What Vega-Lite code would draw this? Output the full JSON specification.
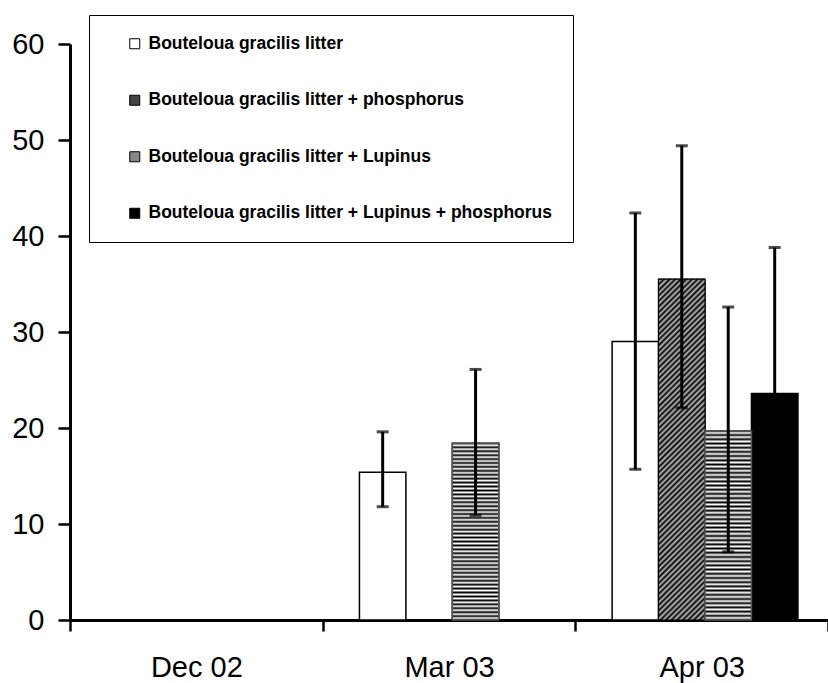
{
"$schema":"https://vega.github.io/schema/vega-lite/v6.json",
"width":758,"height":576,
"autosize":{"type":"none"},
"padding":{"left":70,"top":44,"right":0,"bottom":63},
"background":"white",
"config":{"view":{"stroke":null},"font":"Liberation Sans"},
"data":{"values":[
{"date":"Mar 03","treatment":"Bouteloua gracilis litter","mean":15.4,"lo":11.8,"hi":19.6},
{"date":"Mar 03","treatment":"Bouteloua gracilis litter + Lupinus","mean":18.4,"lo":10.9,"hi":26.1},
{"date":"Apr 03","treatment":"Bouteloua gracilis litter","mean":29.0,"lo":15.7,"hi":42.4},
{"date":"Apr 03","treatment":"Bouteloua gracilis litter + phosphorus","mean":35.5,"lo":22.1,"hi":49.4},
{"date":"Apr 03","treatment":"Bouteloua gracilis litter + Lupinus","mean":19.7,"lo":7.1,"hi":32.6},
{"date":"Apr 03","treatment":"Bouteloua gracilis litter + Lupinus + phosphorus","mean":23.6,"lo":8.4,"hi":38.8}
]},
"encoding":{
"x":{"field":"date","type":"nominal","scale":{"domain":["Dec 02","Mar 03","Apr 03"],"paddingInner":0,"paddingOuter":0},
"axis":{"title":null,"labelAngle":0,"tickBand":"extent","domainWidth":3,"domainColor":"black","tickColor":"black","tickWidth":2.5,"tickSize":11,"labelFontSize":29,"labelPadding":22,"labelColor":"black","labelFont":"Liberation Sans"}},
"xOffset":{"field":"treatment","type":"nominal","scale":{"domain":["Bouteloua gracilis litter","Bouteloua gracilis litter + phosphorus","Bouteloua gracilis litter + Lupinus","Bouteloua gracilis litter + Lupinus + phosphorus"],"paddingInner":0,"paddingOuter":0.72,"align":0.55}}
},
"layer":[
{"mark":{"type":"bar","stroke":"black","strokeWidth":1.5},
"encoding":{
"y":{"field":"mean","type":"quantitative","stack":null,"title":null,"scale":{"domain":[0,60]},
"axis":{"title":null,"values":[0,10,20,30,40,50,60],"grid":false,"domainColor":"black","domainWidth":3,"tickColor":"black","tickWidth":2.5,"tickSize":12,"labelFontSize":29,"labelColor":"black","labelPadding":14,"labelFont":"Liberation Sans"}},
"fill":{"field":"treatment","type":"nominal","scale":{"domain":["Bouteloua gracilis litter","Bouteloua gracilis litter + phosphorus","Bouteloua gracilis litter + Lupinus","Bouteloua gracilis litter + Lupinus + phosphorus"],"range":["white","#444444","#888888","black"]},
"legend":{"title":null,"orient":"none","legendX":19,"legendY":-29,"direction":"vertical","symbolType":"square","symbolSize":100,"symbolStrokeColor":"black","symbolStrokeWidth":1,"labelFont":"Liberation Sans","labelFontWeight":"bold","labelFontSize":17.5,"labelColor":"black","labelOffset":5,"rowPadding":37.5,"padding":20,"strokeColor":"black","fillColor":"white","symbolOffset":17,"labelLimit":600}}
}},
{"transform":[{"filter":"datum.treatment == 'Bouteloua gracilis litter + phosphorus'"}],
"mark":{"type":"bar","stroke":"black","strokeWidth":1,"fill":{"gradient":"linear","x1":0,"y1":0,"x2":0.1505,"y2":1.1147,"stops":[
{"offset":0,"color":"#000"},{"offset":0.007,"color":"#bbb"},{"offset":0.014,"color":"#000"},{"offset":0.021,"color":"#bbb"},{"offset":0.029,"color":"#000"},{"offset":0.036,"color":"#bbb"},{"offset":0.043,"color":"#000"},{"offset":0.05,"color":"#bbb"},{"offset":0.057,"color":"#000"},{"offset":0.064,"color":"#bbb"},
{"offset":0.071,"color":"#000"},{"offset":0.079,"color":"#bbb"},{"offset":0.086,"color":"#000"},{"offset":0.093,"color":"#bbb"},{"offset":0.1,"color":"#000"},{"offset":0.107,"color":"#bbb"},{"offset":0.114,"color":"#000"},{"offset":0.121,"color":"#bbb"},{"offset":0.129,"color":"#000"},{"offset":0.136,"color":"#bbb"},
{"offset":0.143,"color":"#000"},{"offset":0.15,"color":"#bbb"},{"offset":0.157,"color":"#000"},{"offset":0.164,"color":"#bbb"},{"offset":0.171,"color":"#000"},{"offset":0.179,"color":"#bbb"},{"offset":0.186,"color":"#000"},{"offset":0.193,"color":"#bbb"},{"offset":0.2,"color":"#000"},{"offset":0.207,"color":"#bbb"},
{"offset":0.214,"color":"#000"},{"offset":0.221,"color":"#bbb"},{"offset":0.229,"color":"#000"},{"offset":0.236,"color":"#bbb"},{"offset":0.243,"color":"#000"},{"offset":0.25,"color":"#bbb"},{"offset":0.257,"color":"#000"},{"offset":0.264,"color":"#bbb"},{"offset":0.271,"color":"#000"},{"offset":0.279,"color":"#bbb"},
{"offset":0.286,"color":"#000"},{"offset":0.293,"color":"#bbb"},{"offset":0.3,"color":"#000"},{"offset":0.307,"color":"#bbb"},{"offset":0.314,"color":"#000"},{"offset":0.321,"color":"#bbb"},{"offset":0.329,"color":"#000"},{"offset":0.336,"color":"#bbb"},{"offset":0.343,"color":"#000"},{"offset":0.35,"color":"#bbb"},
{"offset":0.357,"color":"#000"},{"offset":0.364,"color":"#bbb"},{"offset":0.371,"color":"#000"},{"offset":0.379,"color":"#bbb"},{"offset":0.386,"color":"#000"},{"offset":0.393,"color":"#bbb"},{"offset":0.4,"color":"#000"},{"offset":0.407,"color":"#bbb"},{"offset":0.414,"color":"#000"},{"offset":0.421,"color":"#bbb"},
{"offset":0.429,"color":"#000"},{"offset":0.436,"color":"#bbb"},{"offset":0.443,"color":"#000"},{"offset":0.45,"color":"#bbb"},{"offset":0.457,"color":"#000"},{"offset":0.464,"color":"#bbb"},{"offset":0.471,"color":"#000"},{"offset":0.479,"color":"#bbb"},{"offset":0.486,"color":"#000"},{"offset":0.493,"color":"#bbb"},
{"offset":0.5,"color":"#000"},{"offset":0.507,"color":"#bbb"},{"offset":0.514,"color":"#000"},{"offset":0.521,"color":"#bbb"},{"offset":0.529,"color":"#000"},{"offset":0.536,"color":"#bbb"},{"offset":0.543,"color":"#000"},{"offset":0.55,"color":"#bbb"},{"offset":0.557,"color":"#000"},{"offset":0.564,"color":"#bbb"},
{"offset":0.571,"color":"#000"},{"offset":0.579,"color":"#bbb"},{"offset":0.586,"color":"#000"},{"offset":0.593,"color":"#bbb"},{"offset":0.6,"color":"#000"},{"offset":0.607,"color":"#bbb"},{"offset":0.614,"color":"#000"},{"offset":0.621,"color":"#bbb"},{"offset":0.629,"color":"#000"},{"offset":0.636,"color":"#bbb"},
{"offset":0.643,"color":"#000"},{"offset":0.65,"color":"#bbb"},{"offset":0.657,"color":"#000"},{"offset":0.664,"color":"#bbb"},{"offset":0.671,"color":"#000"},{"offset":0.679,"color":"#bbb"},{"offset":0.686,"color":"#000"},{"offset":0.693,"color":"#bbb"},{"offset":0.7,"color":"#000"},{"offset":0.707,"color":"#bbb"},
{"offset":0.714,"color":"#000"},{"offset":0.721,"color":"#bbb"},{"offset":0.729,"color":"#000"},{"offset":0.736,"color":"#bbb"},{"offset":0.743,"color":"#000"},{"offset":0.75,"color":"#bbb"},{"offset":0.757,"color":"#000"},{"offset":0.764,"color":"#bbb"},{"offset":0.771,"color":"#000"},{"offset":0.779,"color":"#bbb"},
{"offset":0.786,"color":"#000"},{"offset":0.793,"color":"#bbb"},{"offset":0.8,"color":"#000"},{"offset":0.807,"color":"#bbb"},{"offset":0.814,"color":"#000"},{"offset":0.821,"color":"#bbb"},{"offset":0.829,"color":"#000"},{"offset":0.836,"color":"#bbb"},{"offset":0.843,"color":"#000"},{"offset":0.85,"color":"#bbb"},
{"offset":0.857,"color":"#000"},{"offset":0.864,"color":"#bbb"},{"offset":0.871,"color":"#000"},{"offset":0.879,"color":"#bbb"},{"offset":0.886,"color":"#000"},{"offset":0.893,"color":"#bbb"},{"offset":0.9,"color":"#000"},{"offset":0.907,"color":"#bbb"},{"offset":0.914,"color":"#000"},{"offset":0.921,"color":"#bbb"},
{"offset":0.929,"color":"#000"},{"offset":0.936,"color":"#bbb"},{"offset":0.943,"color":"#000"},{"offset":0.95,"color":"#bbb"},{"offset":0.957,"color":"#000"},{"offset":0.964,"color":"#bbb"},{"offset":0.971,"color":"#000"},{"offset":0.979,"color":"#bbb"},{"offset":0.986,"color":"#000"},{"offset":0.993,"color":"#bbb"},
{"offset":1,"color":"#000"}
]}},
"encoding":{"y":{"field":"mean","type":"quantitative","stack":null,"title":null}}},
{"transform":[{"filter":"datum.treatment == 'Bouteloua gracilis litter + Lupinus'"}],
"mark":{"type":"bar","stroke":"#555555","strokeWidth":1.5,"fill":{"gradient":"linear","x1":0,"y1":0,"x2":0,"y2":1,"stops":[
{"offset":0,"color":"#000"},{"offset":0.011,"color":"#fff"},{"offset":0.022,"color":"#000"},{"offset":0.033,"color":"#fff"},{"offset":0.044,"color":"#000"},{"offset":0.056,"color":"#fff"},{"offset":0.067,"color":"#000"},{"offset":0.078,"color":"#fff"},{"offset":0.089,"color":"#000"},{"offset":0.1,"color":"#fff"},
{"offset":0.111,"color":"#000"},{"offset":0.122,"color":"#fff"},{"offset":0.133,"color":"#000"},{"offset":0.144,"color":"#fff"},{"offset":0.156,"color":"#000"},{"offset":0.167,"color":"#fff"},{"offset":0.178,"color":"#000"},{"offset":0.189,"color":"#fff"},{"offset":0.2,"color":"#000"},{"offset":0.211,"color":"#fff"},
{"offset":0.222,"color":"#000"},{"offset":0.233,"color":"#fff"},{"offset":0.244,"color":"#000"},{"offset":0.256,"color":"#fff"},{"offset":0.267,"color":"#000"},{"offset":0.278,"color":"#fff"},{"offset":0.289,"color":"#000"},{"offset":0.3,"color":"#fff"},{"offset":0.311,"color":"#000"},{"offset":0.322,"color":"#fff"},
{"offset":0.333,"color":"#000"},{"offset":0.344,"color":"#fff"},{"offset":0.356,"color":"#000"},{"offset":0.367,"color":"#fff"},{"offset":0.378,"color":"#000"},{"offset":0.389,"color":"#fff"},{"offset":0.4,"color":"#000"},{"offset":0.411,"color":"#fff"},{"offset":0.422,"color":"#000"},{"offset":0.433,"color":"#fff"},
{"offset":0.444,"color":"#000"},{"offset":0.456,"color":"#fff"},{"offset":0.467,"color":"#000"},{"offset":0.478,"color":"#fff"},{"offset":0.489,"color":"#000"},{"offset":0.5,"color":"#fff"},{"offset":0.511,"color":"#000"},{"offset":0.522,"color":"#fff"},{"offset":0.533,"color":"#000"},{"offset":0.544,"color":"#fff"},
{"offset":0.556,"color":"#000"},{"offset":0.567,"color":"#fff"},{"offset":0.578,"color":"#000"},{"offset":0.589,"color":"#fff"},{"offset":0.6,"color":"#000"},{"offset":0.611,"color":"#fff"},{"offset":0.622,"color":"#000"},{"offset":0.633,"color":"#fff"},{"offset":0.644,"color":"#000"},{"offset":0.656,"color":"#fff"},
{"offset":0.667,"color":"#000"},{"offset":0.678,"color":"#fff"},{"offset":0.689,"color":"#000"},{"offset":0.7,"color":"#fff"},{"offset":0.711,"color":"#000"},{"offset":0.722,"color":"#fff"},{"offset":0.733,"color":"#000"},{"offset":0.744,"color":"#fff"},{"offset":0.756,"color":"#000"},{"offset":0.767,"color":"#fff"},
{"offset":0.778,"color":"#000"},{"offset":0.789,"color":"#fff"},{"offset":0.8,"color":"#000"},{"offset":0.811,"color":"#fff"},{"offset":0.822,"color":"#000"},{"offset":0.833,"color":"#fff"},{"offset":0.844,"color":"#000"},{"offset":0.856,"color":"#fff"},{"offset":0.867,"color":"#000"},{"offset":0.878,"color":"#fff"},
{"offset":0.889,"color":"#000"},{"offset":0.9,"color":"#fff"},{"offset":0.911,"color":"#000"},{"offset":0.922,"color":"#fff"},{"offset":0.933,"color":"#000"},{"offset":0.944,"color":"#fff"},{"offset":0.956,"color":"#000"},{"offset":0.967,"color":"#fff"},{"offset":0.978,"color":"#000"},{"offset":0.989,"color":"#fff"},
{"offset":1,"color":"#000"}
]}},
"encoding":{"y":{"field":"mean","type":"quantitative","stack":null,"title":null}}},
{"mark":{"type":"rule","strokeWidth":3,"color":"black"},
"encoding":{"y":{"field":"lo","type":"quantitative","title":null},"y2":{"field":"hi"}}},
{"mark":{"type":"tick","size":12,"thickness":3,"color":"black"},
"encoding":{"y":{"field":"hi","type":"quantitative","title":null}}},
{"mark":{"type":"tick","size":12,"thickness":3,"color":"black"},
"encoding":{"y":{"field":"lo","type":"quantitative","title":null}}}
]
}
